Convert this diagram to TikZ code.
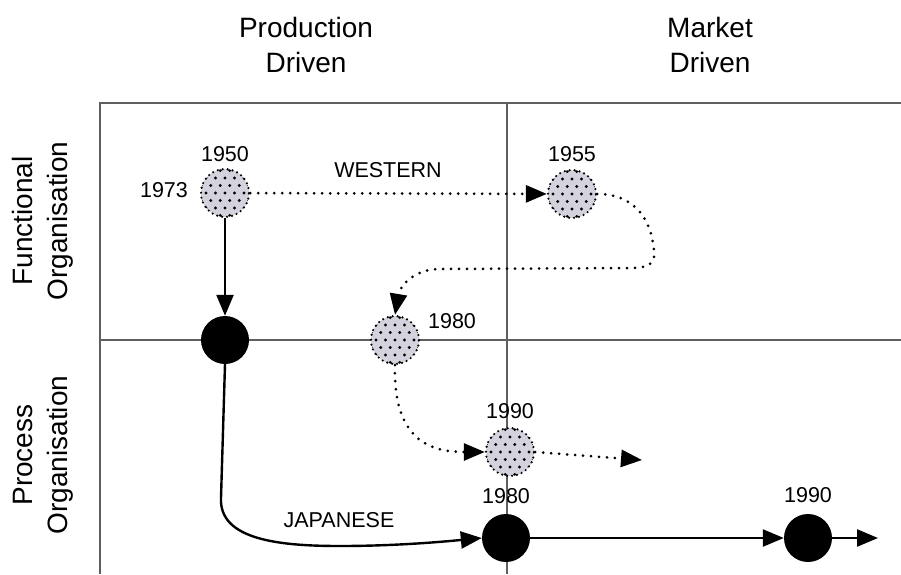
\documentclass[tikz,border=0pt]{standalone}
\usepackage{fontspec}
\setmainfont{Liberation Sans}
\usetikzlibrary{arrows.meta,calc}
\definecolor{dotfill}{RGB}{212,210,220}
\definecolor{gridline}{RGB}{95,95,95}
\begin{document}
\begin{tikzpicture}[x=1pt,y=-1pt,
  hdr/.style={font=\fontsize{28}{35}\selectfont, align=center, inner sep=0pt},
  yr/.style={font=\fontsize{21.5}{24}\selectfont, inner sep=0pt},
  blackdot/.style={circle, fill=black, minimum size=48pt, inner sep=0pt},
  graydot/.style={circle, fill=dotfill, minimum size=48pt, inner sep=0pt,
    draw=black, line width=2.4pt, dash pattern=on 0pt off 5pt, line cap=round,
    path picture={
      \begin{scope}[shift={(path picture bounding box.center)}, rotate=20]
        \foreach \j in {-4,...,4} {
          \foreach \i in {-4,...,4} {
            \fill[black] ({\i*9.5 + mod(abs(\j),2)*4.75}, {\j*7.5}) circle (1.7pt);
          }
        }
      \end{scope}
    }},
  solidarr/.style={line width=2.4pt, -{Triangle[length=21pt,width=17pt]}},
  dotarr/.style={line width=3pt, line cap=round, dash pattern=on 0pt off 8pt,
    -{Triangle[length=21pt,width=17pt]}},
  gridstyle/.style={draw=gridline, line width=1.1pt}
]
\useasboundingbox (0,0) rectangle (901,574);
\fill[white] (0,0) rectangle (901,574);

% quadrant grid
\draw[gridstyle] (100,574) -- (100,103) -- (901,103);
\draw[gridstyle] (100,340) -- (901,340);
\draw[gridstyle] (507,103) -- (507,574);

% headers
\node[hdr] (hprod) at (306,44.5) {Production\\Driven};
\node[hdr] (hmark) at (710,44.5) {Market\\Driven};
\node[hdr, rotate=90] (hfun) at (43,221) {Functional\\Organisation};
\node[hdr, rotate=90] (hproc) at (43,455) {Process\\Organisation};

% circles
\node[graydot] (g50) at (225,193) {};
\node[graydot] (g55) at (572,194) {};
\node[graydot] (g80) at (395,340) {};
\node[graydot] (g90) at (510,452) {};
\node[blackdot] (b50) at (225,340) {};
\node[blackdot] (b80) at (506,538) {};
\node[blackdot] (b90) at (808,538) {};

% labels
\node[yr] (l1950) at (225,154) {1950};
\node[yr] (l1973) at (164,190) {1973};
\node[yr] (lwest) at (388,170) {WESTERN};
\node[yr] (l1955) at (572,154) {1955};
\node[yr] (l1980a) at (452,321) {1980};
\node[yr] (l1990a) at (510,411) {1990};
\node[yr] (l1980b) at (506,496) {1980};
\node[yr] (l1990b) at (808,495) {1990};
\node[yr] (ljap) at (339,520) {JAPANESE};

% helper coordinates
\coordinate (w1) at (654,252);
\coordinate (w2) at (632,268);
\coordinate (w3) at (440,269);
\coordinate (e90) at (642,460);
\coordinate (j1) at (221,498);
\coordinate (j2) at (340,546);
\coordinate (e99) at (878,538);

% western path
\draw[dotarr] (g50) -- (g55);
\draw[dotarr] (g55.east) .. controls (635,194) and (652,220) .. (w1)
  .. controls (656,265) and (645,268) .. (w2) -- (w3)
  .. controls (415,269) and (400,285) .. (g80.north);
\draw[dotarr] (g80.south) .. controls (393,440) and (430,452) .. (g90.west);
\draw[dotarr] (g90.east) -- (e90);

% japanese path
\draw[solidarr] (g50.south) -- (b50.north);
\draw[solidarr] (b50.south) -- (j1) .. controls (219,540) and (280,546) .. (j2)
  .. controls (400,546) and (450,541) .. (b80.west);
\draw[solidarr] (b80) -- (b90);
\draw[solidarr] (b90) -- (e99);
\end{tikzpicture}
\end{document}
